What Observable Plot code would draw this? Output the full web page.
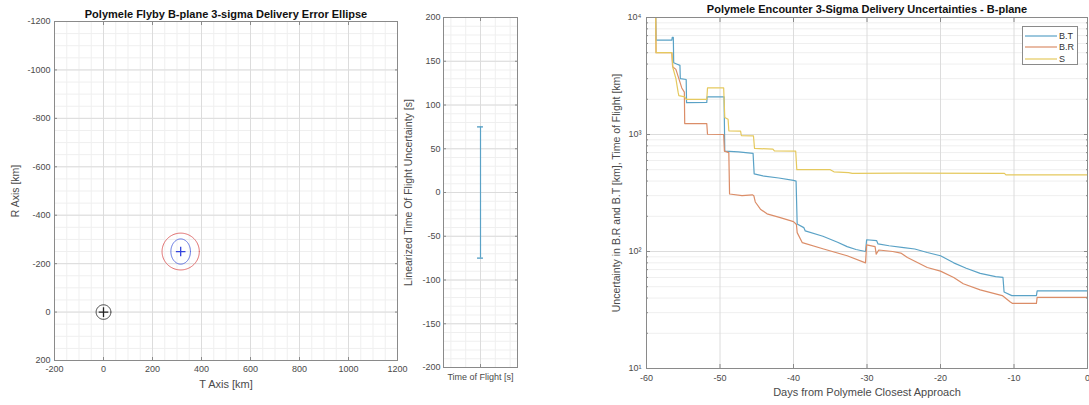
<!DOCTYPE html>
<html><head><meta charset="utf-8">
<script src="https://cdn.jsdelivr.net/npm/d3@7"></script>
<script src="https://cdn.jsdelivr.net/npm/@observablehq/plot@0.6"></script>
<style>
html,body{margin:0;padding:0;background:#fff;}
#root{position:relative;width:1089px;height:405px;overflow:hidden;font-family:"Liberation Sans",Arial,Helvetica,sans-serif;}
.panel{position:absolute;top:0;}
.legend{position:absolute;left:1022px;top:26px;width:56px;height:39px;border:1px solid #8a8a8a;background:#fff;box-sizing:border-box;}
.legend .row{position:absolute;left:0;height:11px;display:flex;align-items:center;font-size:9px;color:#333;}
.legend svg{display:block;margin-left:2px;margin-right:2px;}
</style></head><body><div id="root"></div>
<script>
// ---------- data: left panel (B-plane) ----------
const bplaneXTicks = [-200, 0, 200, 400, 600, 800, 1000, 1200];
const bplaneYTicks = [-1200, -1000, -800, -600, -400, -200, 0, 200];
const ellipseNames = ["body", "1-sigma", "3-sigma"];
const ellipseCx = [0, 315, 315];
const ellipseCy = [0, -250, -250];
const ellipseRx = [30, 40, 76];
const ellipseRy = [30, 52, 76];
const markerNames = ["target", "aim"];
const markerX = [0, 315];
const markerY = [0, -250];

// ---------- data: middle panel (time of flight) ----------
const tofCategory = ["Time of Flight [s]"];
const tofSigma = [75];
const tofYTicks = [-200, -150, -100, -50, 0, 50, 100, 150, 200];

// ---------- data: right panel (uncertainties) ----------
const daysTicks = [-60, -50, -40, -30, -20, -10, 0];
const logTicks = [10, 100, 1000, 10000];
const logTickLabels = ["10¹", "10²", "10³", "10⁴"];
const seriesNames = ["B.T", "B.R", "S"];
const btDays = [-58.75,-58.7,-56.55,-56.5,-56.35,-56.3,-55.9,-55.45,-55.4,-54.6,-54.55,-51.8,-51.75,-49.45,-49.35,-47.5,-45.5,-45.35,-44,-42,-40,-39.65,-39.5,-38.6,-38.4,-36,-34,-32.7,-31.5,-30.2,-30.05,-28.7,-28.5,-27,-25,-23.5,-21.8,-20,-18.2,-16.5,-14.6,-12.5,-11.5,-11.35,-10.3,-6.95,-6.85,0];
const btVals = [10000,6400,6400,6750,6750,4100,4000,3900,3000,2950,1870,1880,2100,2100,720,710,690,460,440,425,405,400,172,160,150,135,120,110,104,100,126,124,116,112,108,105,98,92,80,72,65,61,60,45,42,42,46,46];
const brDays = [-58.75,-58.7,-56.55,-56.45,-56.0,-55.6,-55.2,-54.85,-54.8,-51.8,-51.7,-49.5,-49.4,-48.8,-48.7,-47,-45.6,-45.4,-45.2,-44.5,-43.6,-41.8,-40,-39.6,-39.5,-38.8,-35.9,-32.7,-30.2,-30.05,-28.9,-28.75,-28.4,-26.5,-25.4,-24.5,-21.8,-20,-18.2,-16.9,-14.6,-11.6,-10.5,-10.2,-6.95,-6.85,0];
const brVals = [10000,5000,5000,3800,3600,3000,2500,2300,1240,1240,1005,1000,720,700,310,300,305,300,265,230,210,195,180,170,145,119,105,92,80,114,110,95,103,100,97,89,73,68,60,53,47,42,37,36,36,40.5,40.5];
const sDays = [-58.75,-58.7,-56.55,-56.4,-56.0,-55.7,-55.6,-54.8,-54.6,-51.8,-51.7,-49.5,-49.35,-48.9,-48.8,-47.2,-47.1,-45.45,-45.3,-42.8,-42.6,-39.7,-39.55,-35,-34.5,-32.5,-32,-25,-11.3,-11.1,0];
const sVals = [10000,5000,5000,3700,3000,2300,2150,2100,2000,2000,2500,2500,1400,1350,1075,1070,980,975,760,750,725,720,500,500,480,472,465,468,465,452,452];

// ---------- styles ----------
const FONT = '"Liberation Sans", Arial, Helvetica, sans-serif';
const AX = "#8a8a8a", TXT = "#4a4a4a", TITLE = "#111", GMAJ = "#dcdcdc", GMIN = "#efefef";
const BLUE = "#5aa2c6", ORANGE = "#db8d68", YELLOW = "#e5c95e";
const seriesColors = [BLUE, ORANGE, YELLOW];
const root = document.getElementById("root");
const style = {fontFamily: FONT, fontSize: "9px", color: TXT, background: "transparent", overflow: "visible"};
const TITLE_FS = 11, XLAB_FS = 11, YLAB_FS = 10.5;

function boxTicks(xt, yt, len) {
  return [
    Plot.axisX({anchor: "bottom", ticks: xt, tickSize: len, dy: -len, fill: "none", label: null, stroke: AX}),
    Plot.axisX({anchor: "top", ticks: xt, tickSize: len, dy: len, fill: "none", label: null, stroke: AX}),
    Plot.axisY({anchor: "left", ticks: yt, tickSize: len, dx: len, fill: "none", label: null, stroke: AX}),
    Plot.axisY({anchor: "right", ticks: yt, tickSize: len, dx: -len, fill: "none", label: null, stroke: AX})
  ];
}
const title = (s, dy) => Plot.text([s], {text: d => d, frameAnchor: "top", dy, lineAnchor: "middle", textAnchor: "middle", fontWeight: "bold", fontSize: TITLE_FS, fill: TITLE});
const xlab = (s, dy) => Plot.text([s], {text: d => d, frameAnchor: "bottom", dy, lineAnchor: "middle", textAnchor: "middle", fontSize: XLAB_FS, fill: TXT});
const ylab = (s, dx) => Plot.text([s], {text: d => d, frameAnchor: "left", dx, rotate: -90, lineAnchor: "middle", textAnchor: "middle", fontSize: YLAB_FS, fill: TXT});
function place(el, left) { el.classList.add("panel"); el.style.left = left + "px"; root.appendChild(el); }

// ---------- left panel ----------
const ang = d3.range(0, 361, 3).map(a => a * Math.PI / 180);
const ellipse = i => ang.map(t => ({x: ellipseCx[i] + ellipseRx[i] * Math.cos(t), y: ellipseCy[i] + ellipseRy[i] * Math.sin(t)}));
const markers = markerNames.map((n, i) => ({n, x: markerX[i], y: markerY[i]}));
const left = Plot.plot({
  width: 400, height: 405, marginLeft: 54, marginRight: 3, marginTop: 21, marginBottom: 45,
  style,
  x: {domain: [-200, 1200]},
  y: {domain: [200, -1200]},
  marks: [
    Plot.gridX({ticks: d3.range(-200, 1201, 50), stroke: GMIN, strokeOpacity: 1}),
    Plot.gridY({ticks: d3.range(-1200, 201, 50), stroke: GMIN, strokeOpacity: 1}),
    Plot.gridX({ticks: bplaneXTicks, stroke: GMAJ, strokeOpacity: 1}),
    Plot.gridY({ticks: bplaneYTicks, stroke: GMAJ, strokeOpacity: 1}),
    Plot.line(ellipse(0), {x: "x", y: "y", stroke: "#333", strokeWidth: 1}),
    Plot.line(ellipse(2), {x: "x", y: "y", stroke: "#e06a6a", strokeWidth: 1}),
    Plot.line(ellipse(1), {x: "x", y: "y", stroke: "#5a6ee0", strokeWidth: 1}),
    Plot.dot(markers, {x: "x", y: "y", symbol: "plus", r: 3.2, strokeWidth: 1.3, stroke: d => d.n === "target" ? "#222" : "#3344dd"}),
    Plot.frame({stroke: AX}),
    ...boxTicks(bplaneXTicks, bplaneYTicks, 3),
    Plot.axisX({anchor: "bottom", ticks: bplaneXTicks, tickSize: 0, tickPadding: 5, label: null, tickFormat: d => String(d), fill: TXT, fontSize: 9}),
    Plot.axisY({anchor: "left", ticks: bplaneYTicks, tickSize: 0, tickPadding: 4, label: null, tickFormat: d => String(d), fill: TXT, fontSize: 9}),
    title("Polymele Flyby B-plane 3-sigma Delivery Error Ellipse", -7),
    xlab("T Axis [km]", 24),
    ylab("R Axis [km]", -39)
  ]
});
place(left, 0);

// ---------- middle panel ----------
const capHalf = 0.04;
const mid = Plot.plot({
  width: 160, height: 405, marginLeft: 43, marginRight: 43, marginTop: 17, marginBottom: 38,
  style,
  x: {domain: [0.5, 1.5]},
  y: {domain: [-200, 200]},
  marks: [
    Plot.gridX({ticks: [0.6, 0.8, 1.2, 1.4], stroke: GMIN, strokeOpacity: 1}),
    Plot.gridY({ticks: d3.range(-200, 201, 10), stroke: GMIN, strokeOpacity: 1}),
    Plot.gridX({ticks: [1], stroke: GMAJ, strokeOpacity: 1}),
    Plot.gridY({ticks: tofYTicks, stroke: GMAJ, strokeOpacity: 1}),
    Plot.ruleX(tofSigma, {x: () => 1, y1: d => -d, y2: d => d, stroke: BLUE, strokeWidth: 1.2}),
    Plot.ruleY(tofSigma.flatMap(d => [-d, d]), {y: d => d, x1: 1 - capHalf, x2: 1 + capHalf, stroke: BLUE, strokeWidth: 1.4}),
    Plot.frame({stroke: AX}),
    ...boxTicks([1], tofYTicks, 3),
    Plot.axisX({anchor: "bottom", ticks: [1], tickSize: 0, tickPadding: 6, label: null, tickFormat: () => tofCategory[0], fill: TXT, fontSize: 9}),
    Plot.axisY({anchor: "left", ticks: tofYTicks, tickSize: 0, tickPadding: 3, label: null, tickFormat: d => String(d), fill: TXT, fontSize: 9}),
    ylab("Linearized Time Of Flight Uncertainty [s]", -35)
  ]
});
place(mid, 400);

// ---------- right panel ----------
const toPts = (days, vals) => days.map((d, i) => ({x: d, y: vals[i]}));
const logMinor = [1, 10, 100].flatMap(dec => [2,3,4,5,6,7,8,9].map(k => k * dec * 10));
const right = Plot.plot({
  width: 499, height: 405, marginLeft: 56, marginRight: 2, marginTop: 17, marginBottom: 37,
  style: {...style, overflow: "hidden"},
  x: {domain: [-60, 0]},
  y: {type: "log", domain: [10, 10000]},
  marks: [
    Plot.gridY({ticks: logMinor, stroke: GMIN, strokeOpacity: 1}),
    Plot.gridX({ticks: daysTicks, stroke: GMAJ, strokeOpacity: 1}),
    Plot.gridY({ticks: logTicks, stroke: GMAJ, strokeOpacity: 1}),
    Plot.line(toPts(btDays, btVals), {x: "x", y: "y", stroke: BLUE, strokeWidth: 1.2, clip: true}),
    Plot.line(toPts(brDays, brVals), {x: "x", y: "y", stroke: ORANGE, strokeWidth: 1.2, clip: true}),
    Plot.line(toPts(sDays, sVals), {x: "x", y: "y", stroke: YELLOW, strokeWidth: 1.2, clip: true}),
    Plot.frame({stroke: AX}),
    ...boxTicks(daysTicks, logTicks, 4),
    Plot.axisY({anchor: "left", ticks: logMinor, tickSize: 2, dx: 2, fill: "none", label: null, stroke: AX}),
    Plot.axisY({anchor: "right", ticks: logMinor, tickSize: 2, dx: -2, fill: "none", label: null, stroke: AX}),
    Plot.axisX({anchor: "bottom", ticks: daysTicks, tickSize: 0, tickPadding: 6, label: null, tickFormat: d => String(d), fill: TXT, fontSize: 9}),
    Plot.axisY({anchor: "left", ticks: logTicks, tickSize: 0, tickPadding: 5, label: null, tickFormat: d => logTickLabels[logTicks.indexOf(d)], fill: TXT, fontSize: 9}),
    title("Polymele Encounter 3-Sigma Delivery Uncertainties - B-plane", -8),
    xlab("Days from Polymele Closest Approach", 24),
    ylab("Uncertainty in B.R and B.T [km], Time of Flight [km]", -30)
  ]
});
place(right, 590);

// ---------- legend ----------
const lg = document.createElement("div");
lg.className = "legend";
seriesNames.forEach((n, i) => {
  const row = document.createElement("div");
  row.className = "row";
  row.style.top = (3 + i * 11.5) + "px";
  row.innerHTML = `<svg width="32" height="4"><line x1="0" x2="32" y1="2" y2="2" stroke="${seriesColors[i]}" stroke-width="1.2"/></svg><span>${n}</span>`;
  lg.appendChild(row);
});
root.appendChild(lg);
</script></body></html>
